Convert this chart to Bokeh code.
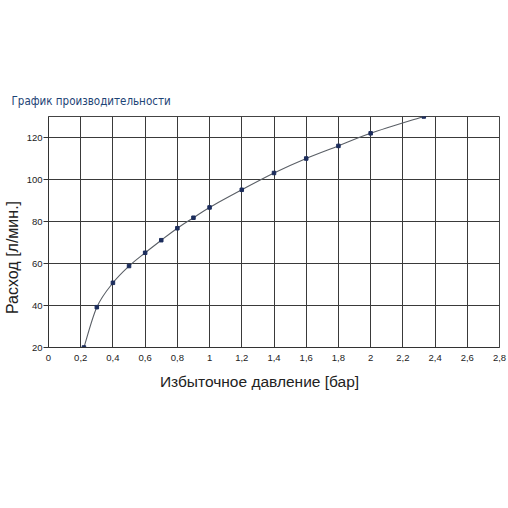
import math
from bokeh.plotting import figure
from bokeh.layouts import column, row
from bokeh.models import FixedTicker, Label, Range1d, ColumnDataSource
from bokeh.embed import file_html
from bokeh.resources import INLINE

pressure = [0.22, 0.3, 0.4, 0.5, 0.6, 0.7, 0.8, 0.9, 1.0, 1.2, 1.4, 1.6, 1.8, 2.0, 2.33]
flow = [20, 39.2, 50.8, 58.8, 65.1, 71.1, 76.8, 81.8, 86.7, 95.1, 103.1, 110.0, 116.0, 122.0, 130.0]

x_ticks = [0, 0.2, 0.4, 0.6, 0.8, 1.0, 1.2, 1.4, 1.6, 1.8, 2.0, 2.2, 2.4, 2.6, 2.8]
x_tick_labels = ["0", "0,2", "0,4", "0,6", "0,8", "1", "1,2", "1,4", "1,6", "1,8", "2", "2,2", "2,4", "2,6", "2,8"]
y_ticks = [20, 40, 60, 80, 100, 120]

title_text = "График производительности"
x_label = "Избыточное давление [бар]"
y_label = "Расход [л/мин.]"


def blank(w, h):
    f = figure(width=w, height=h, output_backend="svg", toolbar_location=None,
               x_range=Range1d(0, 1), y_range=Range1d(0, 1),
               x_axis_type=None, y_axis_type=None,
               min_border_left=0, min_border_right=0, min_border_top=0, min_border_bottom=0)
    f.outline_line_color = None
    f.grid.visible = False
    f.background_fill_color = "white"
    f.border_fill_color = "white"
    return f


# title strip
TH = 108
tf = blank(508, TH)
tf.add_layout(Label(x=11, y=TH - 100, x_units="screen", y_units="screen", text=title_text,
                    text_font="DejaVu Sans Condensed", text_font_size="11.5px",
                    text_color="#1d4475", text_baseline="middle", text_align="left"))

# main chart
YW = 22
MW, MH = 508 - YW, 261
p = figure(width=MW, height=MH, output_backend="svg", toolbar_location=None,
           x_range=Range1d(0, 2.8), y_range=Range1d(20, 130),
           min_border_left=48 - YW, min_border_right=9, min_border_top=8, min_border_bottom=22)
p.background_fill_color = "white"
p.border_fill_color = "white"
p.outline_line_color = "#444444"
p.outline_line_width = 1

p.xaxis.ticker = FixedTicker(ticks=x_ticks)
p.xaxis.major_label_overrides = {t: l for t, l in zip(x_ticks, x_tick_labels)}
p.yaxis.ticker = FixedTicker(ticks=y_ticks)
p.xgrid.ticker = FixedTicker(ticks=x_ticks)
p.ygrid.ticker = FixedTicker(ticks=y_ticks)
for g in (p.xgrid, p.ygrid):
    g.grid_line_color = "#3a3a3a"
    g.grid_line_width = 1
    g.grid_line_alpha = 1

for ax in (p.xaxis, p.yaxis):
    ax.axis_line_color = "#333333"
    ax.major_label_text_font = "Liberation Sans"
    ax.major_label_text_font_size = "9.5px"
    ax.major_label_text_color = "#222222"
    ax.minor_tick_line_color = None
    ax.major_tick_in = 0
p.xaxis.major_tick_out = 0
p.xaxis.major_label_standoff = 7
p.yaxis.major_tick_out = 5
p.yaxis.major_tick_line_color = "#333333"
p.yaxis.major_label_standoff = 1

# smooth curve via Catmull-Rom bezier segments derived from the data
n = len(pressure)
x0, y0, x1, y1, cx0, cy0, cx1, cy1 = [], [], [], [], [], [], [], []
for i in range(n - 1):
    pm = max(i - 1, 0)
    pp = min(i + 2, n - 1)
    x0.append(pressure[i]); y0.append(flow[i])
    x1.append(pressure[i + 1]); y1.append(flow[i + 1])
    cx0.append(pressure[i] + (pressure[i + 1] - pressure[pm]) / 6)
    cy0.append(flow[i] + (flow[i + 1] - flow[pm]) / 6)
    cx1.append(pressure[i + 1] - (pressure[pp] - pressure[i]) / 6)
    cy1.append(flow[i + 1] - (flow[pp] - flow[i]) / 6)
src = ColumnDataSource(dict(x0=x0, y0=y0, x1=x1, y1=y1, cx0=cx0, cy0=cy0, cx1=cx1, cy1=cy1))
p.bezier(x0="x0", y0="y0", x1="x1", y1="y1", cx0="cx0", cy0="cy0", cx1="cx1", cy1="cy1",
         source=src, line_color="#5a5f66", line_width=1.1)
p.scatter(pressure, flow, marker="square", size=3.5, fill_color="#1c2d5c", line_color="#1c2d5c")

# y label strip (its frame is aligned with the main frame, page y 116..347)
yf = blank(YW, MH)
yf.add_layout(Label(x=12, y=347 - 257, x_units="screen", y_units="screen", text=y_label,
                    angle=math.pi / 2,
                    text_font="Liberation Sans", text_font_size="16px",
                    text_color="#222222", text_baseline="middle", text_align="center"))

# x label strip
XH = 40
xf = blank(508, XH)
xf.add_layout(Label(x=259, y=XH - (381 - TH - MH), x_units="screen", y_units="screen", text=x_label,
                    text_font="Liberation Sans", text_font_size="15.5px",
                    text_color="#222222", text_baseline="middle", text_align="center"))

layout = column(tf, row(yf, p), xf)
open("out.html", "w").write(file_html(layout, INLINE))
